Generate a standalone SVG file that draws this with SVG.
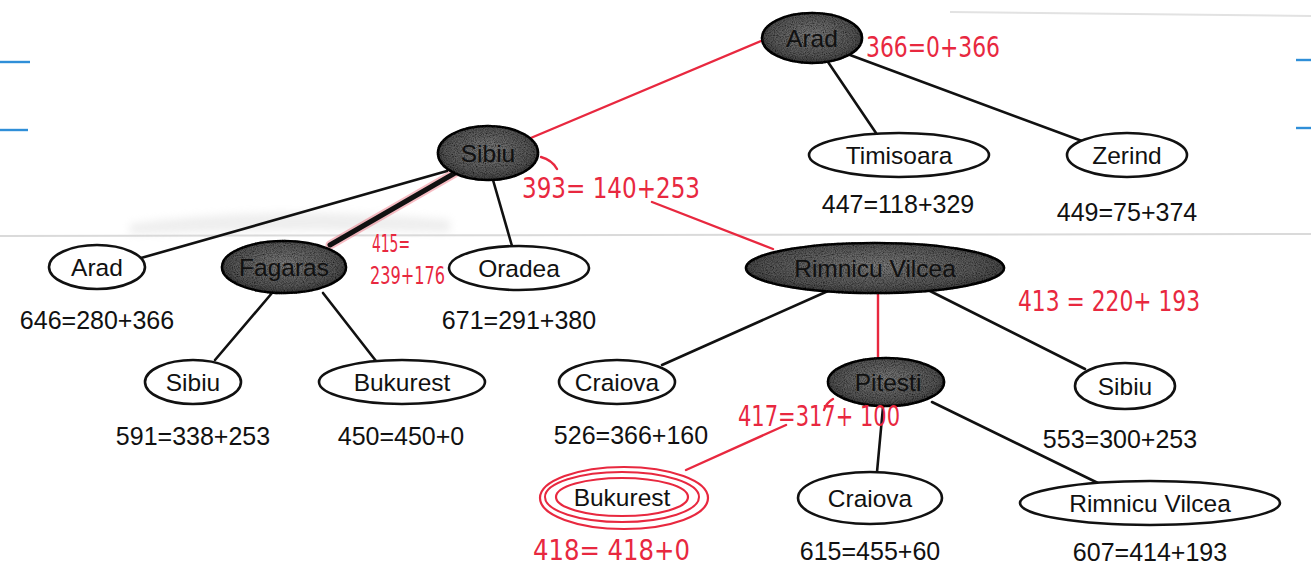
<svg xmlns="http://www.w3.org/2000/svg" width="1311" height="567" viewBox="0 0 1311 567">
  <style>
    .node { fill: #ffffff; stroke: #111; stroke-width: 2.6; }
    .done { fill: url(#shade); stroke: #111; stroke-width: 2.6; }
    .lbl { font-family: "Liberation Sans", Arial, sans-serif; font-size: 24.5px; fill: #111; text-anchor: middle; }
    .lbl-dark { font-family: "Liberation Sans", Arial, sans-serif; font-size: 24.5px; fill: #111; text-anchor: middle; }
    .cost { font-family: "Liberation Sans", Arial, sans-serif; font-size: 25px; fill: #111; text-anchor: middle; }
    .edge { stroke: #111; stroke-width: 2.6; fill: none; stroke-linecap: round; }
    .path { stroke: #e8283f; stroke-width: 2.4; fill: none; stroke-linecap: round; }
    .hand { font-family: "DejaVu Sans Condensed", "DejaVu Sans", "Liberation Sans", sans-serif; font-size: 29px; fill: #e8283f; font-weight: 400; }
    .artifact { stroke: #2f8fd8; stroke-width: 2.4; }
  </style>
  <defs>
    <radialGradient id="shade" cx="50%" cy="45%" r="60%">
      <stop offset="0" stop-color="#7c7c7c"/>
      <stop offset="0.7" stop-color="#575757"/>
      <stop offset="1" stop-color="#363636"/>
    </radialGradient>
    <filter id="grain" x="-5%" y="-5%" width="110%" height="110%">
      <feTurbulence type="fractalNoise" baseFrequency="0.9" numOctaves="2" seed="3" result="n"/>
      <feColorMatrix in="n" type="matrix" values="0 0 0 0 0  0 0 0 0 0  0 0 0 0 0  0 0 0 -1.6 1.1" result="dots"/>
      <feComposite in="dots" in2="SourceGraphic" operator="in" result="d"/>
      <feMerge><feMergeNode in="SourceGraphic"/><feMergeNode in="d"/></feMerge>
    </filter>
    <filter id="soft" x="-10%" y="-50%" width="120%" height="200%">
      <feGaussianBlur stdDeviation="4"/>
    </filter>
  </defs>

  <rect width="1311" height="567" fill="#ffffff"/>

  <!-- paper fold and scan marks -->
  <g id="paper">
    <path d="M0 236 L1311 234" stroke="#dadada" stroke-width="2" fill="none"/>
    <path d="M130 224 Q280 204 450 220 L450 232 Q280 228 130 234 Z" fill="#d4d4d4" opacity="0.4" filter="url(#soft)"/>
    <path d="M950 12 L1311 16" stroke="#e2e2e2" stroke-width="2" fill="none"/>
    <line class="artifact" x1="0" y1="62" x2="30" y2="62"/>
    <line class="artifact" x1="0" y1="130" x2="28" y2="130"/>
    <line class="artifact" x1="1296" y1="60" x2="1311" y2="60"/>
    <line class="artifact" x1="1296" y1="128" x2="1311" y2="128"/>
  </g>

  <!-- tree edges -->
  <g id="connectors">
    <line class="edge" x1="828" y1="62" x2="876" y2="133"/>
    <line class="edge" x1="850" y1="55" x2="1082" y2="141"/>
    <line class="edge" x1="447" y1="171" x2="141" y2="258"/>
    <line class="edge" x1="493" y1="180" x2="512" y2="246"/>
    <line x1="455" y1="173" x2="330" y2="245" stroke="#e8283f" stroke-width="9" opacity="0.3" stroke-linecap="round"/>
    <line x1="455" y1="173" x2="330" y2="245" stroke="#111" stroke-width="5" stroke-linecap="round"/>
    <line class="edge" x1="272" y1="293" x2="215" y2="360"/>
    <line class="edge" x1="323" y1="293" x2="376" y2="361"/>
    <line class="edge" x1="828" y1="291" x2="662" y2="365"/>
    <line class="edge" x1="930" y1="291" x2="1085" y2="369"/>
    <line class="edge" x1="883" y1="407" x2="877" y2="472"/>
    <line class="edge" x1="932" y1="402" x2="1100" y2="484"/>
    <!-- solution path -->
    <line class="path" x1="768" y1="38" x2="526" y2="140"/>
    <path class="path" d="M541 157 Q552 160 557 169"/>
    <line class="path" x1="652" y1="202" x2="773" y2="249"/>
    <line class="path" x1="878" y1="293" x2="878" y2="360"/>
    <path class="path" d="M833 399 Q826 403 824 410"/>
    <line class="path" x1="786" y1="425" x2="686" y2="470"/>
  </g>

  <!-- nodes -->
  <g id="n-arad-root">
    <ellipse class="done" cx="812" cy="38" rx="50" ry="25" filter="url(#grain)"/>
    <text class="lbl-dark" x="812" y="47">Arad</text>
  </g>
  <g id="n-sibiu">
    <ellipse class="done" cx="488" cy="153" rx="50" ry="27" filter="url(#grain)"/>
    <text class="lbl-dark" x="488" y="162">Sibiu</text>
  </g>
  <g id="n-timisoara">
    <ellipse class="node" cx="899" cy="155" rx="90" ry="22"/>
    <text class="lbl" x="899" y="164">Timisoara</text>
    <text class="cost" x="898" y="213">447=118+329</text>
  </g>
  <g id="n-zerind">
    <ellipse class="node" cx="1127" cy="155" rx="60" ry="22"/>
    <text class="lbl" x="1127" y="164">Zerind</text>
    <text class="cost" x="1127" y="221">449=75+374</text>
  </g>
  <g id="n-arad">
    <ellipse class="node" cx="97" cy="267" rx="48" ry="22"/>
    <text class="lbl" x="97" y="276">Arad</text>
    <text class="cost" x="97" y="329">646=280+366</text>
  </g>
  <g id="n-fagaras">
    <ellipse class="done" cx="284" cy="267" rx="62" ry="26" filter="url(#grain)"/>
    <text class="lbl-dark" x="284" y="276">Fagaras</text>
  </g>
  <g id="n-oradea">
    <ellipse class="node" cx="519" cy="268" rx="70" ry="22"/>
    <text class="lbl" x="519" y="277">Oradea</text>
    <text class="cost" x="519" y="329">671=291+380</text>
  </g>
  <g id="n-rimnicu">
    <ellipse class="done" cx="875" cy="268" rx="129" ry="25" filter="url(#grain)"/>
    <text class="lbl-dark" x="875" y="277">Rimnicu Vilcea</text>
  </g>
  <g id="n-sibiu-2">
    <ellipse class="node" cx="193" cy="382" rx="48" ry="22"/>
    <text class="lbl" x="193" y="391">Sibiu</text>
    <text class="cost" x="193" y="445">591=338+253</text>
  </g>
  <g id="n-bukurest-1">
    <ellipse class="node" cx="402" cy="382" rx="83" ry="22"/>
    <text class="lbl" x="402" y="391">Bukurest</text>
    <text class="cost" x="401" y="445">450=450+0</text>
  </g>
  <g id="n-craiova-1">
    <ellipse class="node" cx="617" cy="382" rx="58" ry="22"/>
    <text class="lbl" x="617" y="391">Craiova</text>
    <text class="cost" x="631" y="444">526=366+160</text>
  </g>
  <g id="n-pitesti">
    <ellipse class="done" cx="886" cy="382" rx="58" ry="24" filter="url(#grain)"/>
    <text class="lbl-dark" x="888" y="391">Pitesti</text>
  </g>
  <g id="n-sibiu-3">
    <ellipse class="node" cx="1125" cy="386" rx="50" ry="23"/>
    <text class="lbl" x="1125" y="395">Sibiu</text>
    <text class="cost" x="1120" y="448">553=300+253</text>
  </g>
  <g id="n-bukurest-goal">
    <ellipse cx="624" cy="498" rx="84" ry="31" fill="none" stroke="#e8283f" stroke-width="2.2"/>
    <ellipse cx="622" cy="497" rx="77" ry="25" fill="none" stroke="#e8283f" stroke-width="2"/>
    <ellipse cx="622" cy="497" rx="66" ry="19" fill="#fff" stroke="#e8283f" stroke-width="2.2"/>
    <text class="lbl" x="622" y="506">Bukurest</text>
  </g>
  <g id="n-craiova-2">
    <ellipse class="node" cx="870" cy="498" rx="72" ry="26"/>
    <text class="lbl" x="870" y="507">Craiova</text>
    <text class="cost" x="870" y="560">615=455+60</text>
  </g>
  <g id="n-rimnicu-2">
    <ellipse class="node" cx="1150" cy="503" rx="130" ry="22"/>
    <text class="lbl" x="1150" y="512">Rimnicu Vilcea</text>
    <text class="cost" x="1150" y="561">607=414+193</text>
  </g>

  <!-- handwritten f = g + h values -->
  <g id="notes">
    <text class="hand" x="866" y="57" textLength="134" lengthAdjust="spacingAndGlyphs">366=0+366</text>
    <text class="hand" x="522" y="198" textLength="178" lengthAdjust="spacingAndGlyphs">393= 140+253</text>
    <text class="hand" x="372" y="252" style="font-size:24px" textLength="38" lengthAdjust="spacingAndGlyphs">415=</text>
    <text class="hand" x="370" y="284" style="font-size:24px" textLength="75" lengthAdjust="spacingAndGlyphs">239+176</text>
    <text class="hand" x="1018" y="311" textLength="182" lengthAdjust="spacingAndGlyphs">413 = 220+ 193</text>
    <text class="hand" x="738" y="426" textLength="162" lengthAdjust="spacingAndGlyphs">417=317+ 100</text>
    <text class="hand" x="533" y="560" textLength="157" lengthAdjust="spacingAndGlyphs">418= 418+0</text>
  </g>
</svg>
